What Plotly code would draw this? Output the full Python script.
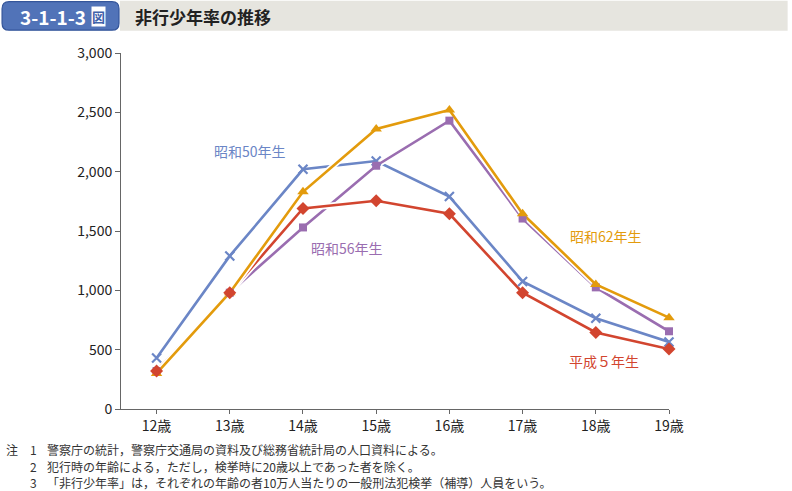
import plotly.graph_objects as go

# ---- data ----
ages = ["12歳", "13歳", "14歳", "15歳", "16歳", "17歳", "18歳", "19歳"]
s50_name = "昭和50年生"
s50 = [430, 1290, 2020, 2090, 1790, 1075, 765, 565]
s56_name = "昭和56年生"
s56 = [320, 980, 1530, 2050, 2430, 1605, 1025, 655]
s62_name = "昭和62年生"
s62 = [300, 980, 1830, 2360, 2520, 1645, 1050, 770]
h5_name = "平成５年生"
h5 = [320, 980, 1690, 1755, 1645, 980, 645, 505]
y_ticks = [0, 500, 1000, 1500, 2000, 2500, 3000]

notes = [
    ("注", "1", "警察庁の統計，警察庁交通局の資料及び総務省統計局の人口資料による。"),
    ("", "2", "犯行時の年齢による，ただし，検挙時に20歳以上であった者を除く。"),
    ("", "3", "「非行少年率」は，それぞれの年齢の者10万人当たりの一般刑法犯検挙（補導）人員をいう。"),
]

W, H = 792, 491
L, R, T, B = 121, 122.7, 53.3, 491 - 409.3
PW, PH = W - L - R, H - T - B

def px(x):
    return (x - L) / PW

def py(y):
    return (H - B - y) / PH

FONT = "Noto Sans CJK JP"
BLUE, PURPLE, ORANGE, RED = "#6b86c6", "#9a6db0", "#e39b0c", "#d2452f"

xs = list(range(len(ages)))
fig = go.Figure()

series = [
    (s50_name, s50, BLUE, dict(symbol="x-thin", size=9, line=dict(width=2.2, color=BLUE))),
    (s56_name, s56, PURPLE, dict(symbol="square", size=8)),
    (h5_name, h5, RED, dict(symbol="diamond", size=10)),
    (s62_name, s62, ORANGE, dict(symbol="triangle-up", size=10)),
]
# lines with white halo
for name, vals, col, mk in series:
    fig.add_trace(go.Scatter(x=xs, y=vals, mode="lines", line=dict(color="white", width=6),
                             hoverinfo="skip", showlegend=False, cliponaxis=False))
    fig.add_trace(go.Scatter(x=xs, y=vals, mode="lines", name=name,
                             line=dict(color=col, width=2.6),
                             showlegend=False, cliponaxis=False))
# markers (red on top)
for idx in [0, 1, 3, 2]:
    name, vals, col, mk = series[idx]
    mk = dict(mk)
    mk.setdefault("color", col)
    fig.add_trace(go.Scatter(x=xs, y=vals, mode="markers", name=name, marker=mk,
                             showlegend=False, cliponaxis=False))

fig.update_xaxes(
    range=[-0.486, 7], tickvals=xs, ticktext=ages, showgrid=False, zeroline=False,
    showline=True, linecolor="#666", linewidth=1, ticks="outside", ticklen=4,
    tickcolor="#666", tickfont=dict(family=FONT, size=14, color="#222"),
)
fig.update_yaxes(
    range=[0, 3000], tickvals=y_ticks, tickformat=",", showgrid=False, zeroline=False,
    showline=True, linecolor="#666", linewidth=1, ticks="outside", ticklen=5,
    tickcolor="#666", tickfont=dict(family=FONT, size=14, color="#222"),
)

ann = []
# series labels
for txt, cx, cy, col in [
    (s50_name, 250, 151, BLUE),
    (s56_name, 347, 248, PURPLE),
    (s62_name, 606, 236, ORANGE),
    (h5_name, 604, 361, RED),
]:
    ann.append(dict(text=txt, x=px(cx), y=py(cy), xref="paper", yref="paper",
                    xanchor="center", yanchor="middle",
                    showarrow=False, font=dict(family=FONT, size=14, color=col)))

# notes
for i, (a, n, t) in enumerate(notes):
    yy = py(450 + i * 16.5)
    if a:
        ann.append(dict(text=a, x=px(4), y=yy, xref="paper", yref="paper", xanchor="left",
                        yanchor="middle",
                        showarrow=False, font=dict(family=FONT, size=12, color="#333")))
    ann.append(dict(text=n, x=px(33), y=yy, xref="paper", yref="paper", xanchor="center",
                    yanchor="middle",
                    showarrow=False, font=dict(family=FONT, size=12, color="#333")))
    ann.append(dict(text=t, x=px(45), y=yy, xref="paper", yref="paper", xanchor="left",
                    yanchor="middle",
                    showarrow=False, font=dict(family=FONT, size=12, color="#333")))

# header texts
ann.append(dict(text="<b>3-1-1-3</b>", x=px(18), y=py(16.5), xref="paper", yref="paper",
                xanchor="left", yanchor="middle", showarrow=False,
                font=dict(family=FONT, size=19, color="white")))
ann.append(dict(text="<b>図</b>", x=px(98), y=py(17), xref="paper", yref="paper",
                xanchor="center", yanchor="middle", showarrow=False, bgcolor="white", borderpad=0,
                font=dict(family=FONT, size=13, color="#3f62aa")))
ann.append(dict(text="<b>非行少年率の推移</b>", x=px(133), y=py(16.5), xref="paper", yref="paper",
                xanchor="left", yanchor="middle", showarrow=False,
                font=dict(family=FONT, size=17, color="#222")))

shapes = [
    dict(type="rect", xref="paper", yref="paper", x0=px(120), x1=px(788), y0=py(31), y1=py(1),
         fillcolor="#e6e5df", line=dict(width=0), layer="below"),
]
# rounded blue box
x0, x1, y0, y1, r = 2, 119, 2, 30.5, 7
def P(x, y):
    return f"{px(x):.5f},{py(y):.5f}"
path = (f"M {P(x0 + r, y0)} L {P(x1 - r, y0)} Q {P(x1, y0)} {P(x1, y0 + r)} "
        f"L {P(x1, y1 - r)} Q {P(x1, y1)} {P(x1 - r, y1)} L {P(x0 + r, y1)} "
        f"Q {P(x0, y1)} {P(x0, y1 - r)} L {P(x0, y0 + r)} Q {P(x0, y0)} {P(x0 + r, y0)} Z")
shapes.append(dict(type="path", xref="paper", yref="paper", path=path,
                   fillcolor="#5173b8", line=dict(color="#34559a", width=1.2), layer="below"))

fig.update_layout(
    width=W, height=H, margin=dict(l=L, r=R, t=T, b=B, pad=0),
    paper_bgcolor="white", plot_bgcolor="white",
    annotations=ann, shapes=shapes, showlegend=False,
    font=dict(family=FONT),
)

fig.write_html("out.html", config={"displayModeBar": False},
               post_script="document.body.style.margin='0px';")
